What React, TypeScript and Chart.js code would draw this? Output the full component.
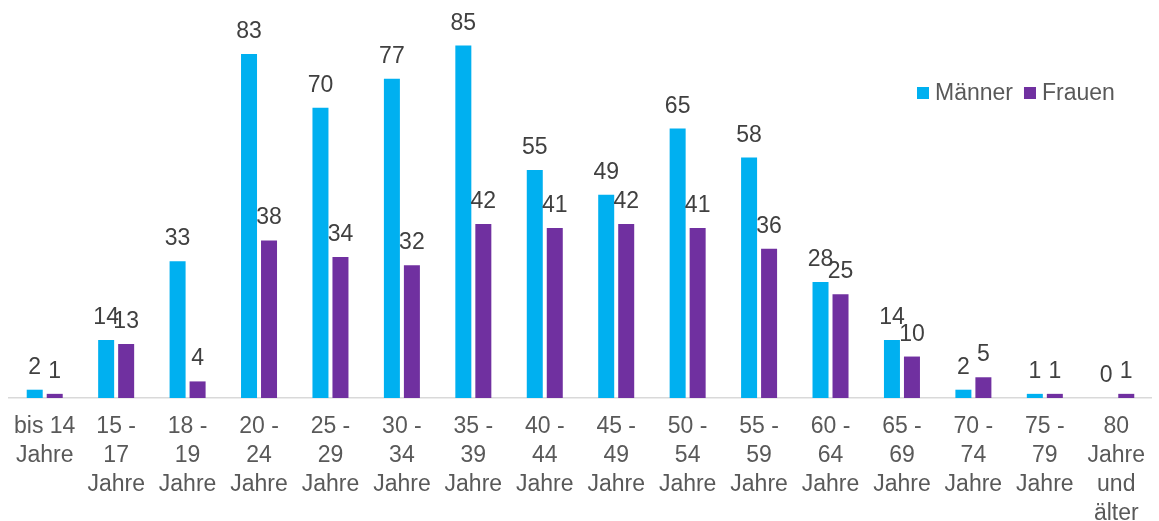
import React, { useEffect, useRef } from "react";
import { Chart, registerables } from "chart.js";

Chart.register(...registerables);

const categories: string[][] = [
  ["bis 14", "Jahre"],
  ["15 -", "17", "Jahre"],
  ["18 -", "19", "Jahre"],
  ["20 -", "24", "Jahre"],
  ["25 -", "29", "Jahre"],
  ["30 -", "34", "Jahre"],
  ["35 -", "39", "Jahre"],
  ["40 -", "44", "Jahre"],
  ["45 -", "49", "Jahre"],
  ["50 -", "54", "Jahre"],
  ["55 -", "59", "Jahre"],
  ["60 -", "64", "Jahre"],
  ["65 -", "69", "Jahre"],
  ["70 -", "74", "Jahre"],
  ["75 -", "79", "Jahre"],
  ["80", "Jahre", "und", "älter"],
];

const maenner: number[] = [2, 14, 33, 83, 70, 77, 85, 55, 49, 65, 58, 28, 14, 2, 1, 0];
const frauen: number[] = [1, 13, 4, 38, 34, 32, 42, 41, 42, 41, 36, 25, 10, 5, 1, 1];

const seriesNames = ["Männer", "Frauen"];
const seriesColors = ["#00B0F0", "#7030A0"];

const FONT = "'Liberation Sans', Arial, sans-serif";

const labelPlugin = {
  id: "valueLabels",
  afterDatasetsDraw(chart: any) {
    const ctx = chart.ctx;
    ctx.save();
    ctx.font = `23px ${FONT}`;
    ctx.fillStyle = "#404040";
    ctx.textAlign = "center";
    ctx.textBaseline = "alphabetic";
    chart.data.datasets.forEach((ds: any, i: number) => {
      const meta = chart.getDatasetMeta(i);
      meta.data.forEach((bar: any, j: number) => {
        ctx.fillText(String(ds.data[j]), bar.x, bar.y - 16);
      });
    });
    ctx.restore();
  },
};

const legendPlugin = {
  id: "customLegend",
  afterDraw(chart: any) {
    const ctx = chart.ctx;
    ctx.save();
    ctx.font = `23px ${FONT}`;
    ctx.textBaseline = "middle";
    ctx.textAlign = "left";
    const y = 93;
    let x = 917;
    seriesNames.forEach((name, i) => {
      ctx.fillStyle = seriesColors[i];
      ctx.fillRect(x, y - 6, 12, 12);
      ctx.fillStyle = "#595959";
      ctx.fillText(name, x + 18, y + 1);
      x += 18 + ctx.measureText(name).width + 11;
    });
    ctx.restore();
  },
};

export default function App() {
  const ref = useRef<HTMLCanvasElement>(null);
  useEffect(() => {
    if (!ref.current) return;
    const chart = new Chart(ref.current, {
      type: "bar",
      data: {
        labels: categories,
        datasets: [
          { label: seriesNames[0], data: maenner, backgroundColor: seriesColors[0] },
          { label: seriesNames[1], data: frauen, backgroundColor: seriesColors[1] },
        ],
      },
      options: {
        responsive: false,
        animation: false,
        layout: { padding: { left: 8, right: 0, top: 0, bottom: 0 } },
        datasets: { bar: { categoryPercentage: 0.56, barPercentage: 0.8 } } as any,
        plugins: { legend: { display: false }, tooltip: { enabled: false } },
        scales: {
          x: {
            grid: { display: false, drawTicks: false },
            border: { display: true, color: "#D9D9D9", width: 1.5 },
            ticks: {
              color: "#595959",
              font: { size: 23, family: FONT, lineHeight: 1.26 },
              padding: 14,
              maxRotation: 0,
              autoSkip: false,
            },
            afterFit(scale: any) {
              scale.height = 123;
            },
          },
          y: {
            display: false,
            min: 0,
            max: 96,
          },
        },
      },
      plugins: [labelPlugin, legendPlugin],
    });
    return () => chart.destroy();
  }, []);
  return (
    <div style={{ position: "fixed", left: 0, top: 0, width: 1159, height: 521, background: "#fff" }}>
      <canvas ref={ref} width={1159} height={521} style={{ display: "block" }} />
    </div>
  );
}
